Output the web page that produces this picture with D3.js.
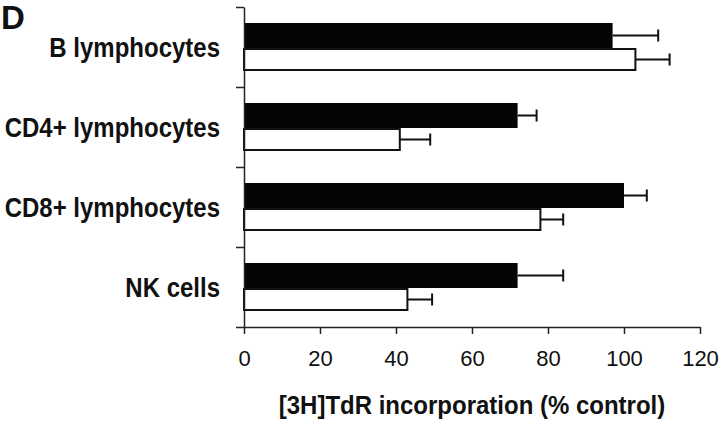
<!DOCTYPE html>
<html>
<head>
<meta charset="utf-8">
<script src="https://cdn.jsdelivr.net/npm/d3@7"></script>
<style>
  html, body { margin: 0; padding: 0; background: #fff; }
  svg { display: block; }
</style>
</head>
<body>
<svg id="chart" width="720" height="426"></svg>
<script>
// ---- data ----
const categories = ["B lymphocytes", "CD4+ lymphocytes", "CD8+ lymphocytes", "NK cells"];
const seriesNames = ["black", "white"];
const blackValues = [97, 72, 100, 72];
const blackErrors = [12, 5, 6, 12];
const whiteValues = [103, 41, 78, 43];
const whiteErrors = [9, 8, 6, 6.5];
const xTicks = [0, 20, 40, 60, 80, 100, 120];
const panelLabel = "D";
const xTitle = "[3H]TdR incorporation (% control)";

(function () {
// ---- layout ----
const svg = d3.select("#chart");
const mLeft = 244, mRight = 700, mTop = 7, mBottom = 327;
const font = "'Liberation Sans', Arial, Helvetica, sans-serif";

const x = d3.scaleLinear().domain([0, 120]).range([mLeft, mRight]);
const y = d3.scaleBand().domain(categories).range([mTop, mBottom])
  .paddingInner(0.4).paddingOuter(0.2);
const ySub = d3.scaleBand().domain(seriesNames).range([0, y.bandwidth()]);
const yEdge = d3.scaleLinear().domain([0, categories.length]).range([mTop, mBottom]);

const rows = categories.map((c, i) => ({
  cat: c,
  bars: [
    { s: "black", v: blackValues[i], e: blackErrors[i] },
    { s: "white", v: whiteValues[i], e: whiteErrors[i] }
  ]
}));

// bars
const g = svg.append("g");
const groups = g.selectAll("g.row").data(rows).join("g")
  .attr("class", "row")
  .attr("transform", d => `translate(0,${y(d.cat)})`);

groups.selectAll("rect").data(d => d.bars).join("rect")
  .attr("x", x(0))
  .attr("y", d => ySub(d.s) + (d.s === "white" ? 2 : 0))
  .attr("width", d => x(d.v) - x(0))
  .attr("height", d => ySub.bandwidth() + (d.s === "white" ? -3 : 1))
  .attr("fill", d => d.s === "black" ? "#050505" : "#fff")
  .attr("stroke", d => d.s === "black" ? "none" : "#111")
  .attr("stroke-width", 2);

// error bars
const capH = 12;
groups.selectAll("path.err").data(d => d.bars).join("path")
  .attr("class", "err")
  .attr("fill", "none")
  .attr("stroke", "#111")
  .attr("stroke-width", 2)
  .attr("d", d => {
    const cy = ySub(d.s) + ySub.bandwidth() / 2 + (d.s === "white" ? 0.5 : 0.5);
    const x1 = x(d.v), x2 = x(d.v + d.e);
    return `M${x1},${cy}H${x2}M${x2},${cy - capH / 2}V${cy + capH / 2}`;
  });

// y axis (ticks at category boundaries)
const yAxis = svg.append("g").attr("transform", `translate(${mLeft},0)`)
  .call(d3.axisLeft(yEdge).tickValues(d3.range(categories.length + 1))
    .tickFormat("").tickSize(8).tickSizeOuter(0));
yAxis.select(".domain").attr("stroke", "#222").attr("stroke-width", 1.5);
yAxis.selectAll(".tick line").attr("stroke", "#222").attr("stroke-width", 1.5);

// x axis
const xAxis = svg.append("g").attr("transform", `translate(0,${mBottom})`)
  .call(d3.axisBottom(x).tickValues(xTicks).tickSize(7).tickSizeOuter(0).tickPadding(16));
xAxis.select(".domain").attr("stroke", "#222").attr("stroke-width", 1.5);
xAxis.selectAll(".tick line").attr("stroke", "#222").attr("stroke-width", 1.5);
xAxis.selectAll(".tick text")
  .attr("fill", "#111")
  .style("font-family", font)
  .style("font-size", "22px");

// category labels (slightly tall glyphs like the reference)
svg.append("g").selectAll("text").data(categories).join("text")
  .attr("transform", d => `translate(220,${y(d) + y.bandwidth() / 2}) scale(1,1.12)`)
  .attr("dy", "0.36em")
  .attr("text-anchor", "end")
  .style("font-family", font)
  .style("font-weight", "bold")
  .style("font-size", "24px")
  .attr("fill", "#111")
  .text(d => d);

// x title
svg.append("text")
  .attr("transform", `translate(${(mLeft + mRight) / 2},414) scale(1,1.08)`)
  .attr("text-anchor", "middle")
  .style("font-family", font)
  .style("font-weight", "bold")
  .style("font-size", "24px")
  .attr("fill", "#111")
  .text(xTitle);

// panel label
svg.append("text")
  .attr("x", 1)
  .attr("y", 29)
  .style("font-family", font)
  .style("font-weight", "bold")
  .style("font-size", "33px")
  .attr("fill", "#111")
  .text(panelLabel);
})();
</script>
</body>
</html>
